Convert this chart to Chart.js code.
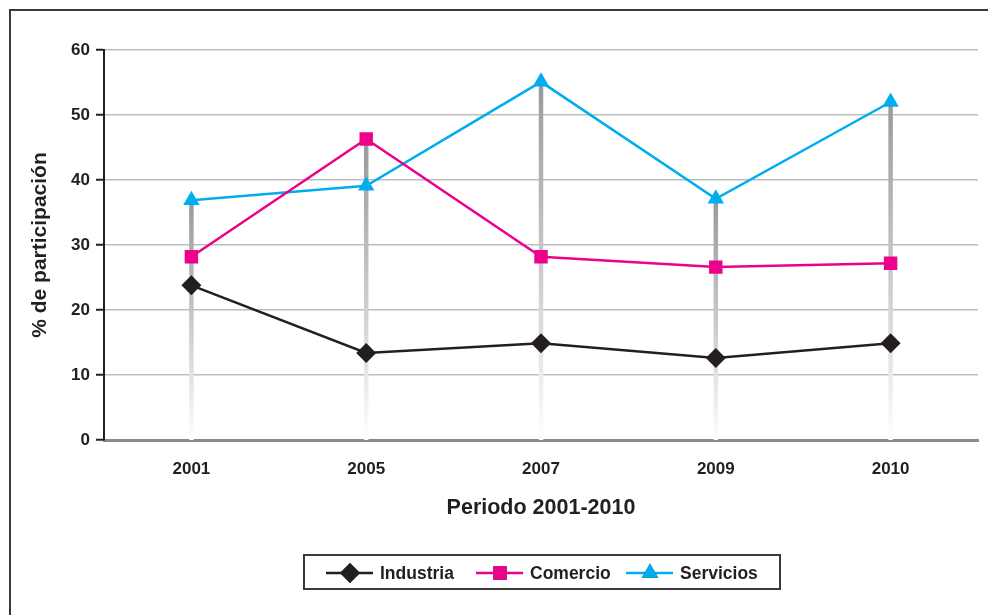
<!DOCTYPE html>
<html>
<head>
<meta charset="utf-8">
<script src="https://cdn.jsdelivr.net/npm/chart.js@4"></script>
<style>
  html,body{margin:0;padding:0;background:#fff;}
  #wrap{position:relative;width:988px;height:615px;}
  #frame{position:absolute;left:9px;top:9px;right:-4px;bottom:-4px;border-top:2px solid #3a3a3a;border-left:2px solid #3a3a3a;pointer-events:none;}
</style>
</head>
<body>
<div id="wrap">
  <canvas id="c" width="988" height="615"></canvas>
  <div id="frame"></div>
</div>
<script>
const years=['2001','2005','2007','2009','2010'];
const industria=[23.8,13.4,14.9,12.6,14.9];
const comercio=[28.2,46.3,28.2,26.6,27.2];
const servicios=[36.9,39.1,55.1,37.1,52.0];
const yTicks=[0,10,20,30,40,50,60];

const FONT='"Liberation Sans", Arial, sans-serif';
const dark='#231f20';

// gray drop lines from the highest point of each year down to the axis
const dropLines={
  id:'dropLines',
  beforeDatasetsDraw(chart){
    const {ctx,scales:{x,y}}=chart;
    const y0=y.getPixelForValue(0);
    years.forEach((yr,i)=>{
      const top=Math.max(...chart.data.datasets.map(d=>d.data[i]));
      const px=x.getPixelForValue(i), py=y.getPixelForValue(top);
      const g=ctx.createLinearGradient(0,py,0,y0);
      g.addColorStop(0,'#98999b'); g.addColorStop(0.55,'#cdcecf'); g.addColorStop(1,'#ffffff');
      ctx.save(); ctx.strokeStyle=g; ctx.lineWidth=4.5;
      ctx.beginPath(); ctx.moveTo(px,py); ctx.lineTo(px,y0); ctx.stroke(); ctx.restore();
    });
  }
};

// boxed legend at the bottom, line + marker like the original
const boxLegend={
  id:'boxLegend',
  afterDraw(chart){
    const ctx=chart.ctx;
    ctx.save();
    ctx.strokeStyle='#3a3a3a'; ctx.lineWidth=2;
    ctx.strokeRect(304,555,476,34);
    const starts=[326,476,626];
    ctx.font='bold 17.5px '+FONT; ctx.textBaseline='middle'; ctx.fillStyle=dark;
    chart.data.datasets.forEach((d,i)=>{
      const x0=starts[i], cy=573;
      ctx.strokeStyle=d.borderColor; ctx.lineWidth=2.5;
      ctx.beginPath(); ctx.moveTo(x0,cy); ctx.lineTo(x0+47,cy); ctx.stroke();
      Chart.helpers.drawPoint(ctx,{pointStyle:d.pointStyle,radius:d.pointRadius,rotation:0,borderWidth:0},x0+24,cy);
      ctx.fillStyle=d.pointBackgroundColor; ctx.fill();
      ctx.fillStyle=dark; ctx.fillText(d.label,x0+54,cy+1);
    });
    ctx.restore();
  }
};

new Chart(document.getElementById('c'),{
  type:'line',
  data:{labels:years,datasets:[
    {label:'Industria',data:industria,borderColor:dark,backgroundColor:dark,pointBackgroundColor:dark,pointBorderWidth:0,pointStyle:'rectRot',pointRadius:10,borderWidth:2.5,tension:0},
    {label:'Comercio',data:comercio,borderColor:'#ec008c',backgroundColor:'#ec008c',pointBackgroundColor:'#ec008c',pointBorderWidth:0,pointStyle:'rect',pointRadius:9.5,borderWidth:2.5,tension:0},
    {label:'Servicios',data:servicios,borderColor:'#00aeef',backgroundColor:'#00aeef',pointBackgroundColor:'#00aeef',pointBorderWidth:0,pointStyle:'triangle',pointRadius:9.5,borderWidth:2.5,tension:0}
  ]},
  options:{
    responsive:false,animation:false,
    layout:{padding:{left:0,right:10,top:50,bottom:0}},
    plugins:{legend:{display:false},tooltip:{enabled:false}},
    scales:{
      x:{
        offset:true,
        grid:{display:false},
        border:{color:'#8a8a8a',width:3},
        ticks:{color:dark,font:{family:FONT,size:17,weight:'bold'},padding:11},
        title:{display:true,text:'Periodo 2001-2010',color:dark,font:{family:FONT,size:21.5,weight:'bold'},padding:{top:10,bottom:94}},
        afterFit(s){s.height=175;}
      },
      y:{
        min:0,max:60,
        afterBuildTicks(s){s.ticks=yTicks.map(v=>({value:v}));},
        grid:{color:'#bdbdbd',lineWidth:1.5,tickColor:dark,tickLength:8,tickWidth:2},
        border:{color:dark,width:2},
        ticks:{color:dark,font:{family:FONT,size:17,weight:'bold'},padding:6},
        title:{display:true,text:'% de participación',color:dark,font:{family:FONT,size:21,weight:'bold'},padding:{top:28,bottom:0}},
        afterFit(s){s.width=104;}
      }
    }
  },
  plugins:[dropLines,boxLegend]
});
</script>
</body>
</html>
